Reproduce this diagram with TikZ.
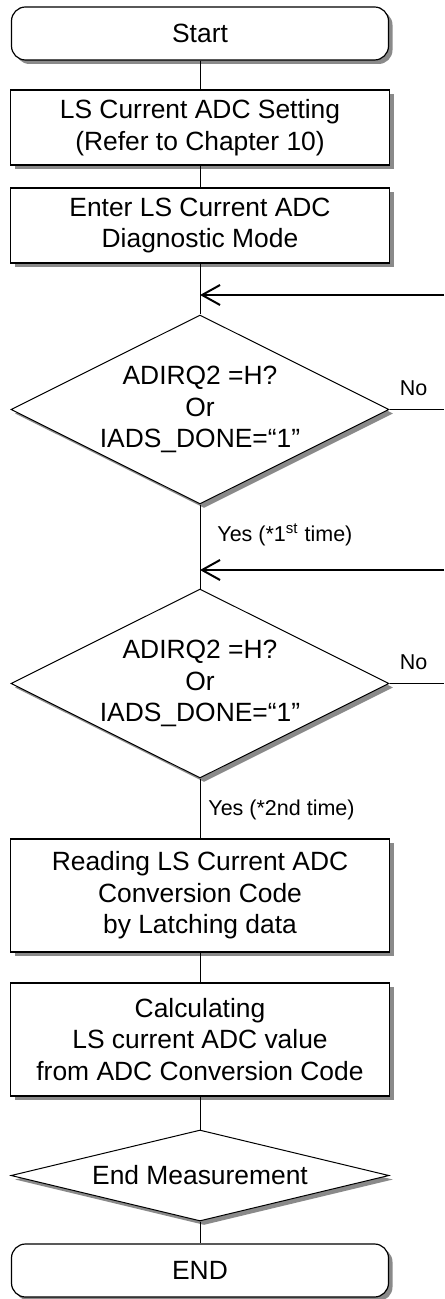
\documentclass[tikz,border=0pt]{standalone}
\usepackage{fontspec}
\setmainfont{Liberation Sans}
\usetikzlibrary{positioning,arrows.meta,shapes.geometric,shadows}
\definecolor{flowgray}{HTML}{8A8A8A}
\tikzset{
    every node/.style={font=\fontsize{13.2}{15.7}\selectfont},
    shadowed/.style={drop shadow={shadow xshift=2pt,shadow yshift=-2pt,fill=flowgray,opacity=1}},
    terminal/.style={rectangle,rounded corners=7pt,draw,line width=0.6pt,fill=white,
        minimum width=188.5pt,minimum height=26.5pt,inner sep=0pt,shadowed},
    process/.style={rectangle,draw,line width=0.6pt,fill=white,align=center,
        minimum width=189.5pt,minimum height=37.5pt,inner sep=0pt,shadowed},
    tallprocess/.style={process,minimum height=56.5pt},
    decision/.style={diamond,draw,line width=0.5pt,fill=white,inner sep=0pt,
        minimum width=189pt,minimum height=94.5pt,shadowed},
    flatdecision/.style={decision,minimum height=45.5pt},
    branchlabel/.style={inner sep=0pt,font=\fontsize{10.75}{13}\selectfont},
    flowline/.style={draw,line width=0.5pt},
    loopline/.style={draw,line width=1pt,-{Straight Barb[length=9pt,width=10pt]}}
}

\begin{document}
\begin{tikzpicture}[x=0.5pt,y=-0.5pt]
\useasboundingbox (0,0) rectangle (444,1299);
% main column
\node[terminal] (start) at (200,33.5) {Start};
\node[process] (setting) at (200,127.5) {LS Current ADC Setting\\(Refer to Chapter 10)};
\node[process] (diag) at (200,225.5) {Enter LS Current ADC\\Diagnostic Mode};
\node[decision,label={[align=center]center:ADIRQ2 =H?\\Or\\IADS\_DONE=“1”}] (check1) at (200,409.5) {};
\node[decision,label={[align=center]center:ADIRQ2 =H?\\Or\\IADS\_DONE=“1”}] (check2) at (200,683.5) {};
\node[tallprocess] (reading) at (200,895.5) {Reading LS Current ADC\\Conversion Code\\by Latching data};
\node[tallprocess] (calc) at (200,1039.5) {Calculating\\LS current ADC value\\from ADC Conversion Code};
\node[flatdecision,label={center:End Measurement}] (endmeas) at (200,1175.5) {};
\node[terminal] (finish) at (200,1270.5) {END};

% loop points
\coordinate (join1) at (200,295);
\coordinate (ret1) at (444,295);
\coordinate (join2) at (200,570);
\coordinate (ret2) at (444,570);
\coordinate (noend1) at (444,409.5);
\coordinate (noend2) at (444,683.5);

\draw[flowline] (start) -- (setting);
\draw[flowline] (setting) -- (diag);
\draw[flowline] (diag) -- (check1);
\draw[flowline] (check1) -- (check2);
\draw[flowline] (check2) -- (reading);
\draw[flowline] (reading) -- (calc);
\draw[flowline] (calc) -- (endmeas);
\draw[flowline] (endmeas) -- (finish);
\draw[flowline] (check1) -- (noend1);
\draw[flowline] (check2) -- (noend2);
\draw[loopline] (ret1) -- (join1);
\draw[loopline] (ret2) -- (join2);

% branch labels
\node[branchlabel,above right=6.5pt and 5pt of check1.east] (no1) {No};
\node[branchlabel,above right=6.5pt and 5pt of check2.east] (no2) {No};
\node[branchlabel,anchor=west] (yes1) at (217,535) {Yes (*1\textsuperscript{st} time)};
\node[branchlabel,anchor=west] (yes2) at (208,810) {Yes (*2nd time)};
\end{tikzpicture}
\end{document}
